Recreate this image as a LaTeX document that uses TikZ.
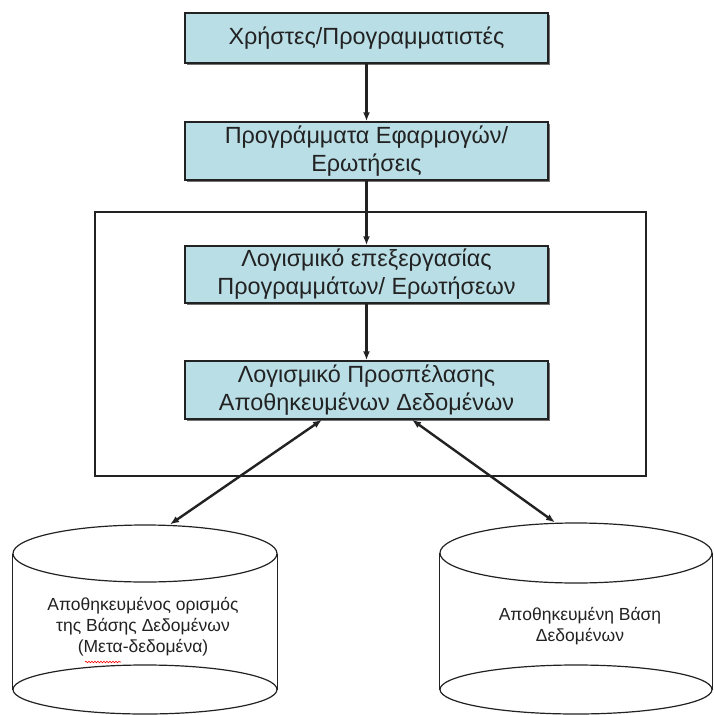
\documentclass[tikz,border=0pt]{standalone}
\usepackage{fontspec}
\setmainfont{Liberation Sans}
\usetikzlibrary{arrows.meta,shadows,shapes.geometric,decorations.pathmorphing}
\definecolor{boxfill}{HTML}{B9DEE6}
\definecolor{ink}{HTML}{222222}
\begin{document}
\begin{tikzpicture}[x=1pt,y=-1pt,
  procbox/.style={draw=ink, line width=1.5pt, fill=boxfill, minimum width=363pt,
    inner sep=0pt, align=center, font=\fontsize{23.4}{28}\selectfont, text=ink,
    drop shadow={shadow xshift=2.2pt, shadow yshift=-2.2pt, fill=black, opacity=0.55}},
  flow/.style={-{Latex[length=9pt,width=7pt]}, line width=2.4pt, draw=ink},
  dflow/.style={{Latex[length=9pt,width=7pt]}-{Latex[length=9pt,width=7pt]}, line width=2.4pt, draw=ink},
  cylend/.style={ellipse, draw=ink, line width=1.2pt, inner sep=0pt},
  cylside/.style={draw=ink, line width=1.2pt},
  cyltext/.style={align=center, font=\fontsize{17.5}{21}\selectfont, text=ink},
  framebox/.style={draw=ink, line width=1.4pt, inner sep=0pt}]
\useasboundingbox (0,0) rectangle (713,715);
\fill[white] (0,0) rectangle (713,715);

% outer frame
\node[framebox, minimum width=551pt, minimum height=264pt] (frame) at (370.5,344) {};

% process boxes
\node[procbox, minimum height=50pt] (b1) at (366.5,38) {Χρήστες/Προγραμματιστές};
\node[procbox, minimum height=58pt] (b2) at (366.5,151) {Προγράμματα Εφαρμογών/\\Ερωτήσεις};
\node[procbox, minimum height=57pt] (b3) at (366.5,274.5) {Λογισμικό επεξεργασίας\\Προγραμμάτων/ Ερωτήσεων};
\node[procbox, minimum height=58pt] (b4) at (366.5,390) {Λογισμικό Προσπέλασης\\Αποθηκευμένων Δεδομένων};

% left cylinder
\node[cylend, minimum width=264pt, minimum height=57pt] (c1top) at (145,553.5) {};
\node[cylend, minimum width=264pt, minimum height=49pt] (c1bot) at (145,689.5) {};
\draw[cylside] (c1top.west) -- (c1bot.west);
\draw[cylside] (c1top.east) -- (c1bot.east);
\node[cyltext] (t1) at (143,627) {Αποθηκευμένος ορισμός\\της Βάσης Δεδομένων\\(Μετα-δεδομένα)};
\draw[red, line width=0.6pt, decorate, decoration={snake, segment length=3pt, amplitude=0.8pt}] (85,662) -- (121,662);

% right cylinder
\node[cylend, minimum width=272pt, minimum height=60pt] (c2top) at (576,553) {};
\node[cylend, minimum width=272pt, minimum height=49pt] (c2bot) at (576,689.5) {};
\draw[cylside] (c2top.west) -- (c2bot.west);
\draw[cylside] (c2top.east) -- (c2bot.east);
\node[cyltext] (t2) at (580,626) {Αποθηκευμένη Βάση\\Δεδομένων};

% connectors
\draw[flow] (b1) -- (b2);
\draw[flow] (b2) -- (b3);
\draw[flow] (b3) -- (b4);
\draw[dflow] ([xshift=-44.5pt]b4.south) -- ([xshift=25pt]c1top.north);
\draw[dflow] ([xshift=45.5pt]b4.south) -- ([xshift=-21pt]c2top.north);
\end{tikzpicture}
\end{document}
